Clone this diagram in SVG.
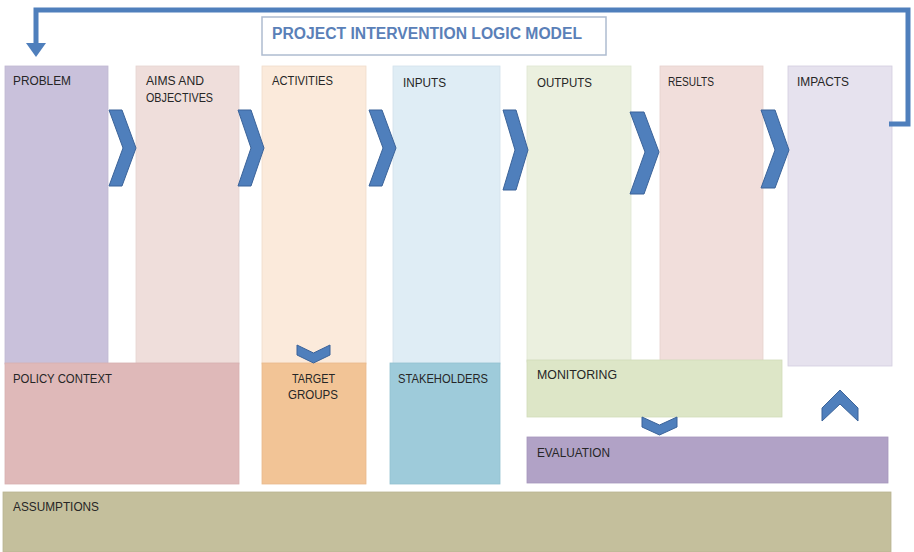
<svg xmlns="http://www.w3.org/2000/svg" width="914" height="552" viewBox="0 0 914 552">
<defs>
<style>
.lbl{font-family:"Liberation Sans",Arial,sans-serif;font-size:13px;fill:#262626;}
.ttl{font-family:"Liberation Sans",Arial,sans-serif;font-size:16px;font-weight:bold;fill:#5a80b8;}
.box{stroke-width:0.8;}
.chev{fill:#4f7fbc;stroke:#3b6399;stroke-width:1;}
.loop{fill:none;stroke:#4f7fbc;stroke-width:5;}
</style>
<marker id="ah" viewBox="0 0 14 20" refX="0" refY="10" markerWidth="14" markerHeight="20" markerUnits="userSpaceOnUse" orient="auto">
<path d="M0,0 L14,10 L0,20 z" fill="#4f7fbc"/>
</marker>
</defs>
<rect width="914" height="552" fill="#ffffff"/>

<g id="title">
<rect x="262" y="17" width="344" height="38" fill="#ffffff" stroke="#aebcd0" stroke-width="1.5"/>
<text class="ttl" x="272" y="39" textLength="310" lengthAdjust="spacingAndGlyphs">PROJECT INTERVENTION LOGIC MODEL</text>
</g>

<g id="problem">
<rect class="box" x="5" y="66" width="103" height="298" fill="#c9c1db" stroke="#c0b8d2"/>
<text class="lbl" x="13" y="85" textLength="58" lengthAdjust="spacingAndGlyphs">PROBLEM</text>
</g>
<g id="aims">
<rect class="box" x="136" y="66" width="103" height="298" fill="#efdedb" stroke="#e6d4d1"/>
<text class="lbl" x="146" y="85" textLength="58" lengthAdjust="spacingAndGlyphs">AIMS AND</text>
<text class="lbl" x="146" y="102" textLength="67" lengthAdjust="spacingAndGlyphs">OBJECTIVES</text>
</g>
<g id="activities">
<rect class="box" x="262" y="66" width="104" height="298" fill="#fbeadb" stroke="#f0dccb"/>
<text class="lbl" x="272" y="85" textLength="61" lengthAdjust="spacingAndGlyphs">ACTIVITIES</text>
</g>
<g id="inputs">
<rect class="box" x="393" y="66" width="107" height="298" fill="#dfedf5" stroke="#d2e2ec"/>
<text class="lbl" x="403" y="87" textLength="43" lengthAdjust="spacingAndGlyphs">INPUTS</text>
</g>
<g id="outputs">
<rect class="box" x="527" y="66" width="104" height="296" fill="#ebf0df" stroke="#dfe6d1"/>
<text class="lbl" x="537" y="87" textLength="55" lengthAdjust="spacingAndGlyphs">OUTPUTS</text>
</g>
<g id="results">
<rect class="box" x="660" y="66" width="103" height="296" fill="#f1dedb" stroke="#e6d1ce"/>
<text class="lbl" x="668" y="86" textLength="46" lengthAdjust="spacingAndGlyphs">RESULTS</text>
</g>
<g id="impacts">
<rect class="box" x="788" y="66" width="104" height="300" fill="#e6e2ee" stroke="#d3cede"/>
<text class="lbl" x="797" y="86" textLength="52" lengthAdjust="spacingAndGlyphs">IMPACTS</text>
</g>

<g id="policy-context">
<rect class="box" x="5" y="363" width="234" height="121" fill="#dfb9b9" stroke="#d6afaf"/>
<text class="lbl" x="13" y="383" textLength="99" lengthAdjust="spacingAndGlyphs">POLICY CONTEXT</text>
</g>
<g id="target-groups">
<rect class="box" x="262" y="363" width="104" height="121" fill="#f2c496" stroke="#e8ba8c"/>
<text class="lbl" x="313.5" y="383" text-anchor="middle" textLength="43" lengthAdjust="spacingAndGlyphs">TARGET</text>
<text class="lbl" x="313" y="399" text-anchor="middle" textLength="50" lengthAdjust="spacingAndGlyphs">GROUPS</text>
</g>
<g id="stakeholders">
<rect class="box" x="390" y="363" width="110" height="121" fill="#9ecbda" stroke="#92c0cf"/>
<text class="lbl" x="398" y="383" textLength="90" lengthAdjust="spacingAndGlyphs">STAKEHOLDERS</text>
</g>
<g id="monitoring">
<rect class="box" x="527" y="360" width="255" height="57" fill="#dde6c7" stroke="#d1dbb9"/>
<text class="lbl" x="537" y="379" textLength="80" lengthAdjust="spacingAndGlyphs">MONITORING</text>
</g>
<g id="evaluation">
<rect class="box" x="527" y="437" width="361" height="46" fill="#b1a2c6" stroke="#a696bc"/>
<text class="lbl" x="537" y="457" textLength="73" lengthAdjust="spacingAndGlyphs">EVALUATION</text>
</g>
<g id="assumptions">
<rect class="box" x="3" y="492" width="888" height="60" fill="#c4bf9c" stroke="#bab592"/>
<text class="lbl" x="13" y="511" textLength="86" lengthAdjust="spacingAndGlyphs">ASSUMPTIONS</text>
</g>

<g id="connectors">
<path class="loop" d="M889,124 H908 V10 H36 V43" marker-end="url(#ah)"/>
<polygon class="chev" points="109,110 122,110 136,148 122,186 109,186 123,148"/>
<polygon class="chev" points="238,110 251,110 264,148 251,186 238,186 251,148"/>
<polygon class="chev" points="369,110 382,110 396,148 382,186 369,186 383,148"/>
<polygon class="chev" points="503,110 516,110 528,150 516,190 503,190 515,150"/>
<polygon class="chev" points="630,112 644,112 659,152 644,194 630,194 645,152"/>
<polygon class="chev" points="761,110 775,110 789,150 775,188 761,188 775,150"/>
<polygon class="chev" points="297,345 313.5,353 330,345 330,355 313.5,363 297,355"/>
<polygon class="chev" points="642,417 659.5,425 677,417 677,427 659.5,435 642,427"/>
<polygon class="chev" points="822,408 840,390 858,408 858,421 840,404 822,421"/>
</g>
</svg>
